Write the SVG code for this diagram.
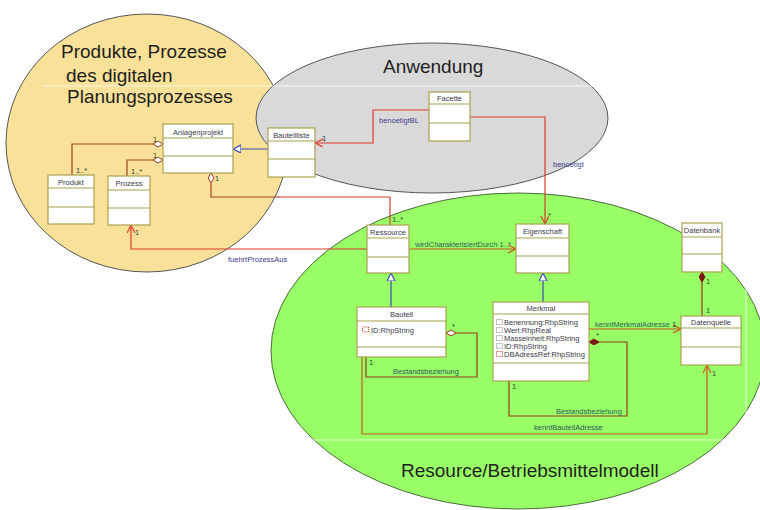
<svg xmlns="http://www.w3.org/2000/svg" width="760" height="510" viewBox="0 0 760 510">
<style>
text{font-family:"Liberation Sans",Arial,sans-serif}
.title{font-size:19px;fill:#1e1e1e}
.box{fill:#fff;stroke:#a8a24e;stroke-width:1.2}
.div{stroke:#a8a24e;stroke-width:1.2}
.hd{font-size:7.5px;fill:#3a3a4a;text-anchor:middle}
.at{font-size:7.5px;fill:#3a3a4a}
.ic{fill:none;stroke:#8a8a8a;stroke-width:1;stroke-dasharray:1 1}
.icr{fill:none;stroke:#c04030;stroke-width:1;stroke-dasharray:1 1}
.c{fill:none;stroke-width:1.2}
.red{stroke:#d93a2c}
.brn{stroke:#a2402a}
.org{stroke:#c8561e}
.dbr{stroke:#963c18}
.blu{stroke:#3a48b8}
.lb{font-size:7.5px;fill:#3c3c8a}
.lg{font-size:7.5px;fill:#2a5a5c}
.m{font-size:7.5px;fill:#2e3e3a}
</style>
<defs>
<marker id="arR" markerUnits="userSpaceOnUse" markerWidth="10" markerHeight="10" refX="8" refY="4" orient="auto"><path d="M0,0 L8,4 L0,8" fill="none" stroke="#d93a2c" stroke-width="1.2"/></marker>
<marker id="arO" markerUnits="userSpaceOnUse" markerWidth="10" markerHeight="10" refX="8" refY="4" orient="auto"><path d="M0,0 L8,4 L0,8" fill="none" stroke="#c8561e" stroke-width="1.2"/></marker>
<marker id="tri" markerUnits="userSpaceOnUse" markerWidth="10" markerHeight="10" refX="8" refY="4" orient="auto"><path d="M0,0 L8,4 L0,8 Z" fill="#fff" stroke="#3a48b8" stroke-width="1.2"/></marker>
<marker id="dh" markerUnits="userSpaceOnUse" markerWidth="12" markerHeight="8" refX="10" refY="3" orient="auto"><path d="M0,3 L5,0 L10,3 L5,6 Z" fill="#fff" stroke="#963c18" stroke-width="1"/></marker>
<marker id="df" markerUnits="userSpaceOnUse" markerWidth="12" markerHeight="8" refX="10" refY="3" orient="auto"><path d="M0,3 L5,0 L10,3 L5,6 Z" fill="#7a1a10" stroke="#7a1a10" stroke-width="1"/></marker>
</defs>

<!-- background regions -->
<ellipse cx="147" cy="143" rx="141" ry="129" fill="#f9e199" stroke="#555" stroke-width="1"/>
<ellipse cx="432" cy="118" rx="176" ry="75" fill="#d9d9d9" stroke="#555" stroke-width="1"/>
<ellipse cx="518" cy="351" rx="247" ry="158" fill="#99ff66" stroke="#4a6a3a" stroke-width="1"/>
<path d="M43,86 H746 V440 H43" fill="none" stroke="#ffffff" stroke-opacity="0.75" stroke-width="1"/>

<text class="title" x="61" y="58">Produkte, Prozesse</text>
<text class="title" x="66" y="82">des digitalen</text>
<text class="title" x="67" y="103">Planungsprozesses</text>
<text class="title" x="383" y="73">Anwendung</text>
<text class="title" x="401" y="477">Resource/Betriebsmittelmodell</text>

<g id="connectors">
<!-- Produkt - Anlagenprojekt -->
<path class="c brn" d="M72,175 V144 H163" marker-end="url(#dh)"/>
<text class="m" x="76" y="173">1..*</text>
<text class="m" x="153" y="142">1</text>
<!-- Prozess - Anlagenprojekt -->
<path class="c brn" d="M127,177 V160 H163" marker-end="url(#dh)"/>
<text class="m" x="131" y="174">1..*</text>
<text class="m" x="153" y="158">1</text>
<!-- Anlagenprojekt - Ressource -->
<path class="c red" d="M390,225 V197 H278"/>
<path class="c brn" d="M279,197 H211 V173" marker-end="url(#dh)"/>
<text class="m" x="215" y="181">1</text>
<text class="m" x="392" y="222">1..*</text>
<!-- Bauteilliste generalization -->
<path class="c blu" d="M268,149 H233" marker-end="url(#tri)"/>
<!-- benoetigtBL -->
<path class="c red" d="M429,110 H373 V143 H315" marker-end="url(#arR)"/>
<text class="lb" x="379" y="123">benoetigtBL</text>
<text class="m" x="322" y="141">1</text>
<!-- benoetigt -->
<path class="c red" d="M470,117 H545 V224" marker-end="url(#arR)"/>
<text class="lb" x="553" y="167">benoetigt</text>
<text class="m" x="548" y="218">*</text>
<!-- wirdCharakterisiertDurch -->
<path class="c org" d="M409,249 H516" marker-end="url(#arO)"/>
<text class="lg" x="415" y="247">wirdCharakterisiertDurch 1..*</text>
<!-- fuehrtProzessAus -->
<path class="c red" d="M367,249 H131 V225" marker-end="url(#arR)"/>
<text class="lb" x="228" y="262">fuehrtProzessAus</text>
<text class="m" x="135" y="235">1</text>
<!-- generalizations -->
<path class="c blu" d="M391,307 V273" marker-end="url(#tri)"/>
<path class="c blu" d="M543,302 V273" marker-end="url(#tri)"/>
<!-- Bauteil self aggregation -->
<path class="c dbr" d="M366,357 V377 H477 V333 H446" marker-end="url(#dh)"/>
<text class="m" x="452" y="329">*</text>
<text class="m" x="369" y="365">1</text>
<text class="lg" x="393" y="374">Bestandsbeziehung</text>
<!-- Merkmal self composition -->
<path class="c dbr" d="M509,381 V416 H627 V342 H589" marker-end="url(#df)"/>
<text class="m" x="596" y="338">*</text>
<text class="m" x="512" y="389">1</text>
<text class="lg" x="556" y="414">Bestandsbeziehung</text>
<!-- kenntMerkmalAdresse -->
<path class="c org" d="M589,329 H681" marker-end="url(#arO)"/>
<text class="lg" x="595" y="327">kenntMerkmalAdresse</text>
<text class="m" x="672" y="327">1</text>
<!-- Datenbank - Datenquelle -->
<path class="c dbr" d="M702,316 V272" marker-end="url(#df)"/>
<text class="m" x="706" y="284">1</text>
<text class="m" x="706" y="313">1</text>
<!-- kenntBauteilAdresse -->
<path class="c org" d="M362,357 V434 H707 V365" marker-end="url(#arO)"/>
<text class="lg" x="534" y="430">kenntBauteilAdresse</text>
<text class="m" x="712" y="376">1</text>
</g>

<g id="anlagenprojekt"><rect class="box" x="163" y="124" width="70" height="49"/><line class="div" x1="163" y1="138" x2="233" y2="138"/><line class="div" x1="163" y1="156" x2="233" y2="156"/><text class="hd" x="198" y="134.5">Anlagenprojekt</text></g>
<g id="produkt"><rect class="box" x="48" y="175" width="46" height="49"/><line class="div" x1="48" y1="188" x2="94" y2="188"/><line class="div" x1="48" y1="207" x2="94" y2="207"/><text class="hd" x="71" y="184.5">Produkt</text></g>
<g id="prozess"><rect class="box" x="108" y="176" width="42" height="49"/><line class="div" x1="108" y1="190" x2="150" y2="190"/><line class="div" x1="108" y1="208" x2="150" y2="208"/><text class="hd" x="129" y="186">Prozess</text></g>
<g id="bauteilliste"><rect class="box" x="268" y="128" width="47" height="49"/><line class="div" x1="268" y1="141" x2="315" y2="141"/><line class="div" x1="268" y1="159" x2="315" y2="159"/><text class="hd" x="291.5" y="137.5">Bauteilliste</text></g>
<g id="facette"><rect class="box" x="429" y="92" width="41" height="49"/><line class="div" x1="429" y1="104" x2="470" y2="104"/><line class="div" x1="429" y1="123" x2="470" y2="123"/><text class="hd" x="449.5" y="101">Facette</text></g>
<g id="ressource"><rect class="box" x="367" y="225" width="42" height="48"/><line class="div" x1="367" y1="238" x2="409" y2="238"/><line class="div" x1="367" y1="257" x2="409" y2="257"/><text class="hd" x="388" y="234.5">Ressource</text></g>
<g id="eigenschaft"><rect class="box" x="516" y="224" width="53" height="49"/><line class="div" x1="516" y1="238" x2="569" y2="238"/><line class="div" x1="516" y1="256" x2="569" y2="256"/><text class="hd" x="542.5" y="234">Eigenschaft</text></g>
<g id="datenbank"><rect class="box" x="682" y="223" width="40" height="49"/><line class="div" x1="682" y1="237" x2="722" y2="237"/><line class="div" x1="682" y1="254" x2="722" y2="254"/><text class="hd" x="702" y="233">Datenbank</text></g>
<g id="datenquelle"><rect class="box" x="681" y="316" width="60" height="49"/><line class="div" x1="681" y1="328" x2="741" y2="328"/><line class="div" x1="681" y1="347" x2="741" y2="347"/><text class="hd" x="711" y="325">Datenquelle</text></g>
<g id="bauteil"><rect class="box" x="357" y="307" width="89" height="50"/><line class="div" x1="357" y1="321" x2="446" y2="321"/><line class="div" x1="357" y1="347" x2="446" y2="347"/><text class="hd" x="401.5" y="317">Bauteil</text>
<rect class="icr" x="362.5" y="327" width="6" height="5"/><text class="at" x="371" y="332.5">ID:RhpString</text></g>
<g id="merkmal"><rect class="box" x="493" y="302" width="96" height="79"/><line class="div" x1="493" y1="314" x2="589" y2="314"/><line class="div" x1="493" y1="363" x2="589" y2="363"/><text class="hd" x="541" y="311">Merkmal</text>
<rect class="ic" x="496.5" y="319.5" width="6" height="5"/><text class="at" x="504" y="325">Benennung:RhpString</text>
<rect class="ic" x="496.5" y="327.5" width="6" height="5"/><text class="at" x="504" y="333">Wert:RhpReal</text>
<rect class="ic" x="496.5" y="335.5" width="6" height="5"/><text class="at" x="504" y="341">Masseinheit:RhpString</text>
<rect class="ic" x="496.5" y="343.5" width="6" height="5"/><text class="at" x="504" y="349">ID:RhpString</text>
<rect class="icr" x="496.5" y="351.5" width="6" height="5"/><text class="at" x="504" y="357">DBAdressRef:RhpString</text></g>
</svg>
